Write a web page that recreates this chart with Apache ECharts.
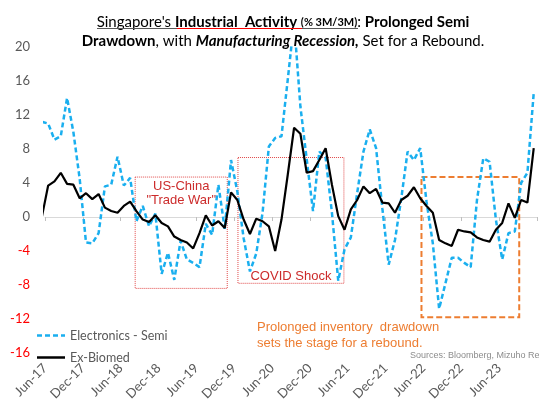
<!DOCTYPE html>
<html><head><meta charset="utf-8">
<script src="https://cdn.jsdelivr.net/npm/echarts@6/dist/echarts.min.js"></script>
<style>html,body{margin:0;padding:0;background:#fff}#c{width:539px;height:410px}</style>
</head><body><div id="c"></div>
<script>
// x-axis tick labels (every 6 months, at month boundaries)
const tickLabels = ['Jun-17','Dec-17','Jun-18','Dec-18','Jun-19','Dec-19','Jun-20','Dec-20','Jun-21','Dec-21','Jun-22','Dec-22','Jun-23'];
// monthly values, May-17 .. Nov-23 (May-17 sits just left of the plotted window)
const electronicsSemi = [11.2,
  11.0, 9.1, 9.5, 14.0, 10.0, 4.5, -3.0, -3.1, -1.9, 3.6,
  3.8, 7.1, 3.7, 4.6, -0.5, 1.3, -1.1, 0.4, -6.7, -4.2,
  -7.4, -2.8, -5.0, -5.4, -5.9, -0.8, -2.1, 3.8, -1.4, 6.7,
  3.0, -2.5, -6.4, -4.3, 0.5, 8.3, 9.3, 9.5, 16.2, 23.0,
  13.0, 6.8, 0.7, 7.7, 7.0, 0.5, -7.5, -3.8, -2.4, 2.8,
  7.7, 10.3, 8.1, 1.0, -5.6, -2.7, 2.2, 7.7, 6.7, 8.1,
  1.8, -3.1, -10.8, -7.8, -4.8, -4.8, -5.4, -5.9, 2.0, 6.9,
  6.5, -0.3, -5.0, -1.9, -1.7, 4.0, 5.2, 14.6];
const exBiomed = [0.0,
  3.7, 4.2, 5.2, 3.9, 3.8, 2.2, 2.8, 2.1, 2.7, 1.1,
  0.7, 0.5, 1.3, 1.8, 0.7, -0.3, -0.6, 0.2, -0.7, -1.1,
  -2.3, -2.7, -3.0, -3.7, -1.9, 0.2, -1.0, -0.5, -1.3, 2.9,
  2.0, -0.3, -2.0, -0.2, -0.5, -1.1, -4.0, -0.3, 5.0, 10.5,
  9.8, 5.2, 5.4, 6.7, 8.1, 3.8, 0.1, -1.5, 0.9, 2.0,
  3.6, 2.8, 3.3, 1.7, 1.6, 0.5, 2.0, 2.5, 3.5, 2.2,
  1.3, 0.5, -2.7, -3.1, -3.4, -1.5, -1.7, -1.8, -2.4, -2.7,
  -2.9, -1.5, -0.7, 1.6, -0.1, 2.0, 1.7, 8.1];
const seriesNames = ['Electronics - Semi', 'Ex-Biomed'];

// month i (May-17 = 0) is centred at i - 0.5 on the month axis
const toXY = arr => arr.map((v, i) => [i - 0.5, v]);

const chart = echarts.init(document.getElementById('c'), null, {renderer: 'canvas'});
const gray = '#595959';
const blue = '#1AAFEF';
const calib = 'Lato, "Open Sans", sans-serif';
const arial = '"Liberation Sans", Arial, sans-serif';

const option = {
  animation: false,
  backgroundColor: '#fff',
  grid: {left: 45, top: 47, width: 495.3, height: 306, containLabel: false},
  xAxis: [
    {
      type: 'value', min: 0, max: 78, interval: 6, position: 'bottom',
      axisLine: {show: false, onZero: false}, axisTick: {show: false}, splitLine: {show: false},
      axisLabel: {
        rotate: 45, margin: 13, color: gray, fontSize: 13, fontFamily: calib,
        formatter: v => tickLabels[Math.round(v / 6)] || ''
      }
    },
    {
      type: 'value', min: 0, max: 78, interval: 6, position: 'bottom',
      axisLine: {show: true, onZero: true, lineStyle: {color: '#d9d9d9', width: 1}},
      axisTick: {show: true, length: 4, lineStyle: {color: '#bfbfbf'}},
      axisLabel: {show: false}, splitLine: {show: false}
    }
  ],
  yAxis: {
    type: 'value', min: -16, max: 20, interval: 4,
    axisLine: {show: false}, axisTick: {show: false}, splitLine: {show: false},
    axisLabel: {
      margin: 15, fontSize: 13, fontFamily: calib,
      color: v => (Number(v) < 0 ? '#FF0000' : gray)
    }
  },
  legend: {
    data: [
      {name: seriesNames[0], icon: 'path://M0,0h5v2.5h-5z M8,0h5v2.5h-5z M16,0h5v2.5h-5z M24,0h4v2.5h-4z'},
      {name: seriesNames[1], icon: 'path://M0,0h28v2.5h-28z'}
    ],
    orient: 'vertical', left: 32, top: 324,
    itemWidth: 28, itemHeight: 12, itemGap: 9, symbolKeepAspect: true,
    textStyle: {color: gray, fontSize: 12.5, fontFamily: calib}
  },
  series: [
    {
      name: seriesNames[0], type: 'line', xAxisIndex: 0, data: toXY(electronicsSemi),
      symbol: 'none', clip: true, z: 2,
      lineStyle: {color: blue, width: 2.5, type: [5, 3]}, itemStyle: {color: blue},
      markArea: {
        silent: true,
        data: [
          [{coord: [14.3, 4.7],
            itemStyle: {color: 'rgba(0,0,0,0)', borderColor: '#e04848', borderWidth: 1, borderType: 'dotted'},
            label: {show: true, position: 'insideTop', distance: 3, formatter: 'US-China\n"Trade War"',
              color: '#cc2b2b', fontSize: 13, lineHeight: 14, fontFamily: arial, align: 'center'}},
           {coord: [28.9, -8.4]}],
          [{coord: [30.6, 7.0],
            itemStyle: {color: 'rgba(0,0,0,0)', borderColor: '#e04848', borderWidth: 1, borderType: 'dotted'},
            label: {show: true, position: 'insideBottom', distance: 1, formatter: 'COVID Shock',
              color: '#cc2b2b', fontSize: 13, fontFamily: arial}},
           {coord: [47.4, -7.8]}],
          [{coord: [59.7, 4.7],
            itemStyle: {color: 'rgba(0,0,0,0)', borderColor: '#ED7D31', borderWidth: 2, borderType: [6, 3]},
            label: {show: false}},
           {coord: [75.2, -11.8]}]
        ]
      }
    },
    {
      name: seriesNames[1], type: 'line', xAxisIndex: 0, data: toXY(exBiomed),
      symbol: 'none', clip: true, z: 3,
      lineStyle: {color: '#000', width: 2.2}, itemStyle: {color: '#000'}
    }
  ],
  graphic: [
    {
      type: 'text', x: 283, y: 13, z: 10,
      style: {
        text: "{g|Singapore's }{r|Industrial  Activity }{s|(% 3M/3M)}{g|: }{b|Prolonged Semi}\n{b|Drawdown}{g|, with }{k|Manufacturing Recession,}{g| Set for a Rebound.}",
        align: 'center', verticalAlign: 'top',
        rich: {
          g: {color: gray, fontSize: 15, fontFamily: calib, lineHeight: 19},
          r: {color: '#FF0000', fontSize: 15, fontWeight: 'bold', fontFamily: calib, lineHeight: 19},
          s: {color: gray, fontSize: 11, fontWeight: 'bold', fontFamily: calib, lineHeight: 19},
          b: {color: '#00B0F0', fontSize: 15, fontWeight: 'bold', fontFamily: calib, lineHeight: 19},
          k: {color: '#000', fontSize: 15, fontWeight: 'bold', fontStyle: 'italic', fontFamily: calib, lineHeight: 19}
        }
      }
    },
    {type: 'line', z: 10, shape: {x1: 97, y1: 28.5, x2: 177, y2: 28.5}, style: {stroke: gray, lineWidth: 1}},
    {type: 'line', z: 10, shape: {x1: 177, y1: 28.5, x2: 302, y2: 28.5}, style: {stroke: '#FF0000', lineWidth: 1}},
    {type: 'line', z: 10, shape: {x1: 302, y1: 28.5, x2: 358, y2: 28.5}, style: {stroke: gray, lineWidth: 1}},
    {
      type: 'text', x: 257, y: 320, z: 10,
      style: {
        text: 'Prolonged inventory  drawdown\nsets the stage for a rebound.',
        fill: '#ED7D31', fontSize: 13, lineHeight: 15.5, fontFamily: arial
      }
    },
    {
      type: 'text', x: 410, y: 351, z: 10,
      style: {text: 'Sources: Bloomberg, Mizuho Research', fill: '#8c8c8c', fontSize: 9, fontFamily: arial}
    }
  ]
};
chart.setOption(option);
</script>
</body></html>
